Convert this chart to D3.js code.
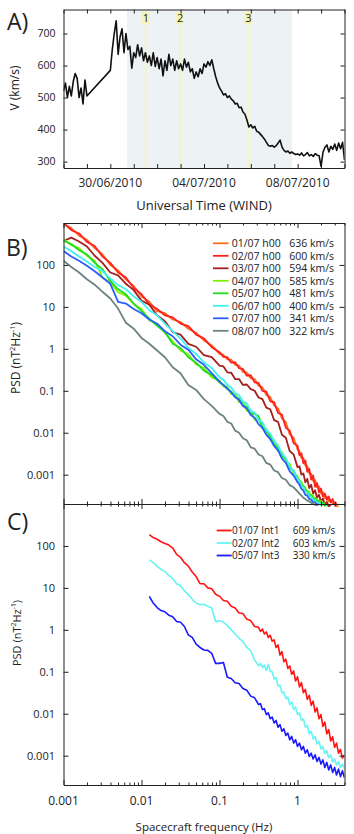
<!DOCTYPE html>
<html>
<head>
<meta charset="utf-8">
<script src="https://cdn.jsdelivr.net/npm/d3@7/dist/d3.min.js"></script>
<style>
body { margin: 0; background: #fff; }
text { font-family: "Open Sans", sans-serif; fill: #222; }
.axis path, .axis line { stroke: #222; stroke-width: 1; }
.axis text { font-family: "Open Sans", sans-serif; fill: #222; }
</style>
</head>
<body>
<script>
// ---------- panel A : solar wind speed (WIND), 2 h samples from 28/06/2010 00 UT, null = data gap
var speedStart = "2010-06-28T00:00:00Z";
var speedStepHours = 2;
var speedKms = [520,545,500,535,505,550,575,560,500,530,480,555,505,
  null,null,null,null,null,null,null,null,null,null,null,
  585,650,700,740,635,690,715,640,700,650,
  660,592,640,625,665,630,655,615,640,610,
  630,600,640,597,625,590,620,568,615,585,
  635,600,620,585,615,590,605,585,620,595,
  610,580,590,560,580,565,590,575,605,595,
  612,600,618,590,565,545,530,520,508,512,
  500,505,495,490,480,482,468,470,455,448,
  430,408,415,405,410,395,392,385,378,370,
  360,350,348,350,345,350,358,367,345,335,
  330,333,326,330,325,322,324,320,327,318,
  322,328,318,322,316,325,320,318,285,330,
  345,352,330,348,338,355,335,358,340,360,
  305];
var speedTicks = [300, 400, 500, 600, 700];
var dateTicks = ["2010-06-30T00:00:00Z", "2010-07-04T00:00:00Z", "2010-07-08T00:00:00Z"];
var dateTickLabels = ["30/06/2010", "04/07/2010", "08/07/2010"];
var shadeSpan = ["2010-06-30T17:00:00Z", "2010-07-07T18:00:00Z"];
var eventTimes = ["2010-07-01T12:30:00Z", "2010-07-02T23:30:00Z", "2010-07-05T21:30:00Z"];
var eventLabels = ["1", "2", "3"];

// ---------- panel B : PSD at 00 h each day (log10 of f in Hz, log10 of PSD in nT^2/Hz)
var logFreqB = [-3.0,-2.9,-2.8,-2.7,-2.6,-2.5,-2.4,-2.3,-2.2,-2.1,-2.0,-1.9,-1.8,-1.7,-1.6,-1.5,-1.4,-1.3,-1.2,-1.1,
  -1.0,-0.95,-0.9,-0.85,-0.8,-0.75,-0.7,-0.65,-0.6,-0.55,-0.5,-0.45,-0.4,-0.35,-0.3,-0.25,-0.2,-0.15,-0.1,-0.05,
  0,0.025,0.05,0.075,0.1,0.125,0.15,0.175,0.2,0.225,0.25,0.275,0.3,0.325,0.35,0.375,0.4,0.425,0.45,0.475,0.5,0.525,0.55,0.575,0.6];
var psd0107 = [2.98,2.88,2.7,2.6,2.4,2.25,2.0,1.87,1.65,1.5,1.25,1.12,0.9,0.85,0.7,0.64,0.48,0.38,0.2,0.08,
  -0.12,-0.14,-0.25,-0.26,-0.38,-0.4,-0.55,-0.57,-0.7,-0.72,-0.88,-0.92,-1.1,-1.15,-1.35,-1.42,-1.66,-1.75,-2.04,-2.12,
  -2.4,-2.44,-2.6,-2.6,-2.78,-2.8,-2.97,-2.98,-3.15,-3.13,-3.3,-3.28,-3.45,-3.42,-3.56,-3.52,-3.64,-3.6,-3.7,-3.68,-3.76,-3.74,null,null,null];
var psd0207 = [3.0,2.83,2.75,2.55,2.45,2.2,2.05,1.82,1.7,1.45,1.3,1.06,0.95,0.8,0.75,0.6,0.54,0.34,0.25,0.04,
  -0.08,-0.19,-0.2,-0.33,-0.32,-0.46,-0.48,-0.64,-0.63,-0.8,-0.81,-1.0,-1.02,-1.25,-1.27,-1.53,-1.57,-1.88,-1.95,-2.25,
  -2.31,-2.54,-2.49,-2.73,-2.66,-2.93,-2.86,-3.12,-3.02,-3.29,-3.2,-3.42,-3.33,-3.52,-3.45,-3.6,-3.52,-3.66,-3.58,-3.72,-3.66,null,null,null,null];
var psd0307 = [2.57,2.65,2.56,2.44,2.22,2.05,1.82,1.75,1.55,1.4,1.15,1.05,0.8,0.66,0.4,0.34,0.12,0.05,-0.15,-0.2,
  -0.4,-0.42,-0.56,-0.57,-0.72,-0.72,-0.86,-0.85,-0.96,-1.0,-1.16,-1.2,-1.4,-1.44,-1.7,-1.74,-2.05,-2.12,-2.44,-2.52,
  -2.82,-2.8,-3.0,-2.97,-3.18,-3.1,-3.32,-3.24,-3.45,-3.37,-3.55,-3.48,-3.64,-3.57,-3.71,-3.65,-3.76,-3.72,null,null,null,null,null,null,null];
var psd0407 = [2.62,2.47,2.4,2.22,2.1,1.7,1.58,1.35,1.27,1.07,0.95,0.68,0.6,0.38,0.18,-0.04,-0.13,-0.37,-0.45,-0.68,
  -0.75,-0.9,-0.9,-1.08,-1.07,-1.27,-1.27,-1.48,-1.46,-1.69,-1.68,-1.9,-1.9,-2.16,-2.18,-2.44,-2.46,-2.72,-2.74,-3.0,
  -3.03,-3.2,-3.16,-3.34,-3.3,-3.46,-3.4,-3.57,-3.49,-3.64,-3.57,-3.68,-3.62,-3.72,-3.67,null,null,null,null,null,null,null,null,null,null];
var psd0507 = [2.58,2.5,2.35,2.25,2.05,1.9,1.62,1.42,1.3,1.08,0.9,0.72,0.55,0.4,0.12,0.02,-0.2,-0.33,-0.52,-0.62,
  -0.8,-0.86,-0.96,-1.02,-1.15,-1.18,-1.35,-1.38,-1.55,-1.55,-1.6,-1.86,-1.98,-2.08,-2.28,-2.35,-2.56,-2.62,-2.85,-2.9,
  -3.1,-3.13,-3.25,-3.26,-3.38,-3.38,-3.5,-3.48,-3.6,-3.56,-3.66,-3.62,-3.7,-3.67,-3.74,-3.72,null,null,null,null,null,null,null,null,null];
var psd0607 = [2.44,2.33,2.2,2.08,1.95,1.85,1.68,1.52,1.42,1.25,1.12,0.92,0.8,0.6,0.42,0.25,0.02,-0.12,-0.32,-0.46,
  -0.68,-0.74,-0.86,-0.92,-1.06,-1.1,-1.26,-1.3,-1.48,-1.52,-1.7,-1.75,-1.94,-2.02,-2.2,-2.3,-2.5,-2.6,-2.82,-2.92,
  -3.1,-3.16,-3.26,-3.3,-3.4,-3.42,-3.52,-3.52,-3.62,-3.6,-3.68,-3.66,-3.72,-3.7,null,null,null,null,null,null,null,null,null,null,null];
var psd0707 = [2.33,2.2,2.1,1.98,1.85,1.7,1.55,1.12,1.08,0.95,0.85,0.7,0.6,0.42,0.3,0.1,-0.02,-0.25,-0.38,-0.58,
  -0.78,-0.86,-0.95,-1.04,-1.15,-1.22,-1.36,-1.42,-1.58,-1.64,-1.8,-1.88,-2.05,-2.15,-2.32,-2.42,-2.62,-2.72,-2.92,-3.02,
  -3.18,-3.24,-3.34,-3.38,-3.48,-3.5,-3.58,-3.6,-3.66,-3.66,-3.71,-3.72,null,null,null,null,null,null,null,null,null,null,null,null,null];
var psd0807 = [2.1,1.95,1.82,1.66,1.53,1.36,1.2,0.96,0.62,0.48,0.26,0.12,-0.04,-0.2,-0.44,-0.58,-0.86,-0.98,-1.2,-1.36,
  -1.55,-1.6,-1.74,-1.78,-1.95,-2.0,-2.13,-2.18,-2.35,-2.38,-2.52,-2.56,-2.72,-2.76,-2.9,-2.94,-3.08,-3.12,-3.25,-3.3,
  -3.4,-3.45,-3.5,-3.55,-3.58,-3.62,-3.64,-3.67,-3.7,-3.71,-3.74,null,null,null,null,null,null,null,null,null,null,null,null,null,null];
var seriesB = [psd0107, psd0207, psd0307, psd0407, psd0507, psd0607, psd0707, psd0807];
var legendB = ["01/07 h00", "02/07 h00", "03/07 h00", "04/07 h00", "05/07 h00", "06/07 h00", "07/07 h00", "08/07 h00"];
var speedsB = [636, 600, 594, 585, 481, 400, 341, 322];
var colorsB = ["#ff6a1a", "#ff1f1f", "#a3201f", "#80f000", "#1fdc1f", "#3ff2f2", "#2b5fff", "#6d8282"];

// ---------- panel C : PSD of the three intervals
var logFreqC = [-1.9,-1.85,-1.8,-1.75,-1.7,-1.65,-1.6,-1.55,-1.5,-1.45,-1.4,-1.35,-1.3,-1.25,-1.2,-1.15,-1.1,-1.05,-1.0,-0.95,-0.9,-0.85,-0.8,-0.75,-0.7,-0.65,-0.6,-0.55,-0.5,
  -0.475,-0.45,-0.425,-0.4,-0.375,-0.35,-0.325,-0.3,-0.275,-0.25,-0.225,-0.2,-0.175,-0.15,-0.125,-0.1,-0.075,-0.05,-0.025,0,
  0.025,0.05,0.075,0.1,0.125,0.15,0.175,0.2,0.225,0.25,0.275,0.3,0.325,0.35,0.375,0.4,0.425,0.45,0.475,0.5,0.525,0.55,0.575,0.6];
var psdInt1 = [2.27,2.2,2.16,2.1,2.06,2.02,1.95,1.8,1.73,1.6,1.52,1.38,1.27,1.1,1.1,1.0,0.98,0.85,0.8,0.7,0.68,0.56,0.52,0.4,0.39,0.25,0.22,0.08,0.06,
  -0.04,0.02,-0.1,-0.05,-0.18,-0.13,-0.27,-0.24,-0.42,-0.36,-0.6,-0.52,-0.76,-0.7,-0.92,-0.86,-1.06,-0.98,-1.22,-1.12,
  -1.36,-1.26,-1.5,-1.42,-1.66,-1.56,-1.8,-1.7,-1.96,-1.86,-2.12,-2.02,-2.3,-2.2,-2.48,-2.38,-2.65,-2.55,-2.8,-2.7,-2.94,-2.85,-3.06,-2.98];
var psdInt2 = [1.67,1.6,1.52,1.44,1.39,1.3,1.22,1.1,1.05,0.93,0.84,0.73,0.64,0.6,0.61,0.56,0.52,0.2,0.22,0.18,0.1,0.0,-0.1,-0.2,-0.28,-0.42,-0.5,-0.72,-0.86,
  -0.8,-0.9,-0.84,-0.97,-0.82,-0.99,-1.0,-1.17,-1.14,-1.34,-1.32,-1.5,-1.48,-1.64,-1.6,-1.78,-1.72,-1.9,-1.84,-2.02,
  -1.98,-2.16,-2.12,-2.32,-2.28,-2.48,-2.42,-2.6,-2.54,-2.72,-2.66,-2.84,-2.78,-2.95,-2.88,-3.05,-2.98,-3.15,-3.08,-3.22,-3.14,-3.28,-3.2,-3.3];
var psdInt3 = [0.8,0.64,0.53,0.46,0.43,0.35,0.31,0.2,0.18,0.08,-0.12,-0.18,-0.34,-0.42,-0.48,-0.49,-0.56,-0.8,-0.8,-0.78,-1.13,-1.16,-1.26,-1.28,-1.4,-1.44,-1.58,-1.62,-1.78,
  -1.76,-1.9,-1.88,-2.02,-1.98,-2.12,-2.08,-2.22,-2.16,-2.32,-2.26,-2.42,-2.36,-2.52,-2.46,-2.62,-2.54,-2.7,-2.62,-2.78,
  -2.7,-2.86,-2.78,-2.94,-2.86,-3.02,-2.94,-3.08,-2.98,-3.14,-3.04,-3.2,-3.1,-3.28,-3.16,-3.34,-3.22,-3.4,-3.28,-3.46,-3.32,-3.5,-3.36,-3.52];
var seriesC = [psdInt1, psdInt2, psdInt3];
var legendC = ["01/07 Int1", "02/07 Int2", "05/07 Int3"];
var speedsC = [609, 603, 330];
var colorsC = ["#ff1414", "#66f4f4", "#1a1aff"];

var psdTickValues = [0.001, 0.01, 0.1, 1, 10, 100];
var psdTickLabels = ["0.001", "0.01", "0.1", "1", "10", "100"];
var freqTickValues = [0.001, 0.01, 0.1, 1];
var freqTickLabels = ["0.001", "0.01", "0.1", "1"];

// ---------- drawing
var svg = d3.select("body").append("svg").attr("width", 354).attr("height", 834);
var L = 63.5, R = 344.5;
var defs = svg.append("defs");
function clip(id, x, y, w, h) {
  defs.append("clipPath").attr("id", id).append("rect")
    .attr("x", x).attr("y", y).attr("width", w).attr("height", h);
}

// panel A
var aTop = 9.5, aBot = 168;
var tx = d3.scaleUtc()
  .domain([new Date("2010-06-28T00:00:00Z"), new Date("2010-07-10T00:00:00Z")])
  .range([L, R]);
var vy = d3.scaleLinear().domain([280, 775]).range([aBot, aTop]);
clip("clipA", L, aTop, R - L, aBot - aTop);

svg.append("rect")
  .attr("x", tx(new Date(shadeSpan[0])))
  .attr("y", aTop)
  .attr("width", tx(new Date(shadeSpan[1])) - tx(new Date(shadeSpan[0])))
  .attr("height", aBot - aTop)
  .attr("fill", "#edf2f5");

eventTimes.forEach(function(t, i) {
  var x = tx(new Date(t));
  svg.append("line").attr("x1", x).attr("x2", x).attr("y1", aTop).attr("y2", aBot)
    .attr("stroke", "#f4f4c4").attr("stroke-width", 1.8);
  svg.append("rect").attr("x", x - 4).attr("y", 12).attr("width", 8).attr("height", 12)
    .attr("fill", "#f4f4b8");
  svg.append("text").attr("x", x).attr("y", 22).attr("text-anchor", "middle")
    .attr("font-size", "11px").text(eventLabels[i]);
});

var startMs = +new Date(speedStart);
var speedPts = speedKms.map(function(v, i) {
  return { t: new Date(startMs + i * speedStepHours * 3600000), v: v };
}).filter(function(d) { return d.v !== null; });

svg.append("path").datum(speedPts)
  .attr("d", d3.line().x(function(d) { return tx(d.t); }).y(function(d) { return vy(d.v); }))
  .attr("fill", "none").attr("stroke", "#111").attr("stroke-width", 1.6)
  .attr("stroke-linejoin", "round")
  .attr("clip-path", "url(#clipA)");

var dayTicks = d3.utcDay.range(tx.domain()[0], d3.utcDay.offset(tx.domain()[1], 1));
var axA = svg.append("g").attr("class", "axis");
axA.append("g").attr("transform", "translate(0," + aBot + ")")
  .call(d3.axisBottom(tx).tickValues(dayTicks).tickSize(-4).tickSizeOuter(0).tickFormat(""));
axA.append("g").attr("transform", "translate(0," + aTop + ")")
  .call(d3.axisTop(tx).tickValues(dayTicks).tickSize(-4).tickSizeOuter(0).tickFormat(""));
axA.append("g").attr("transform", "translate(" + L + ",0)")
  .call(d3.axisLeft(vy).tickValues(speedTicks).tickSize(-4).tickSizeOuter(0).tickPadding(8))
  .selectAll("text").attr("font-size", "10.5px");
axA.append("g").attr("transform", "translate(" + R + ",0)")
  .call(d3.axisRight(vy).tickValues(speedTicks).tickSize(-4).tickSizeOuter(0).tickFormat(""));

dateTicks.forEach(function(d, i) {
  svg.append("text").attr("x", tx(new Date(d))).attr("y", 186.5)
    .attr("text-anchor", "middle").attr("font-size", "12px").text(dateTickLabels[i]);
});
svg.append("text").attr("x", 204).attr("y", 210).attr("text-anchor", "middle")
  .attr("font-size", "13px").text("Universal Time (WIND)");
svg.append("text").attr("transform", "translate(18.5,88) rotate(-90)")
  .attr("text-anchor", "middle").attr("font-size", "12px").text("V (km/s)");
svg.append("text").attr("x", 7).attr("y", 30).attr("font-size", "23px").text("A)");

// panels B and C share the log frequency axis
var fx = d3.scaleLog().domain([0.001, 4]).range([L, R]);
var minorF = fx.ticks().filter(function(f) { return Math.abs(Math.log10(f) - Math.round(Math.log10(f))) > 1e-6; });

function psdLabel(x, y, size) {
  var t = svg.append("text").attr("transform", "translate(" + x + "," + y + ") rotate(-90)")
    .attr("text-anchor", "middle").attr("font-size", size + "px");
  t.append("tspan").text("PSD (nT");
  t.append("tspan").attr("dy", -size * 0.45).attr("font-size", (size * 0.62) + "px").text("2");
  t.append("tspan").attr("dy", size * 0.45).text("Hz");
  t.append("tspan").attr("dy", -size * 0.45).attr("font-size", (size * 0.62) + "px").text("-1");
  t.append("tspan").attr("dy", size * 0.45).text(")");
}

function logPanel(top, bottom, series, colors, clipId, clipTop, clipBot, logF, width) {
  var py = d3.scaleLog().domain([2e-4, 1000]).range([bottom, top]);
  clip(clipId, L, clipTop, R - L, clipBot - clipTop);
  var line = d3.line()
    .defined(function(d) { return d.p !== null; })
    .x(function(d) { return fx(Math.pow(10, d.f)); })
    .y(function(d) { return py(Math.pow(10, d.p)); });
  series.forEach(function(s, k) {
    var pts = s.map(function(p, i) { return { f: logF[i], p: p }; });
    svg.append("path").datum(pts).attr("d", line)
      .attr("fill", "none").attr("stroke", colors[k]).attr("stroke-width", width)
      .attr("stroke-linejoin", "round")
      .attr("clip-path", "url(#" + clipId + ")");
  });
  var ax = svg.append("g").attr("class", "axis");
  ax.append("g").attr("transform", "translate(0," + bottom + ")")
    .call(d3.axisBottom(fx).tickValues(minorF).tickSize(-2.5).tickSizeOuter(0).tickFormat(""));
  ax.append("g").attr("transform", "translate(0," + bottom + ")")
    .call(d3.axisBottom(fx).tickValues(freqTickValues).tickSize(-5).tickSizeOuter(0).tickFormat(""));
  ax.append("g").attr("transform", "translate(0," + top + ")")
    .call(d3.axisTop(fx).tickValues(minorF).tickSize(-2.5).tickSizeOuter(0).tickFormat(""));
  ax.append("g").attr("transform", "translate(0," + top + ")")
    .call(d3.axisTop(fx).tickValues(freqTickValues).tickSize(-5).tickSizeOuter(0).tickFormat(""));
  ax.append("g").attr("transform", "translate(" + L + ",0)")
    .call(d3.axisLeft(py).tickValues(psdTickValues).tickSize(-5).tickSizeOuter(0).tickPadding(8.5)
      .tickFormat(function(d, i) { return psdTickLabels[i]; }))
    .selectAll("text").attr("font-size", "11px");
  ax.append("g").attr("transform", "translate(" + R + ",0)")
    .call(d3.axisRight(py).tickValues(psdTickValues).tickSize(-5).tickSizeOuter(0).tickFormat(""));
  return py;
}

// panel B
var bTop = 223, bBot = 504;
logPanel(bTop, bBot, seriesB, colorsB, "clipB", bTop, bBot + 3, logFreqB, 1.8);
legendB.forEach(function(name, i) {
  var y = 243.3 + 12.5 * i;
  svg.append("line").attr("x1", 213).attr("x2", 228.5).attr("y1", y).attr("y2", y)
    .attr("stroke", colorsB[i]).attr("stroke-width", 1.8);
  svg.append("text").attr("x", 231.7).attr("y", y + 3.8).attr("font-size", "10.5px").text(name);
  svg.append("text").attr("x", 289.3).attr("y", y + 3.8).attr("font-size", "10.5px").text(speedsB[i] + " km/s");
});
psdLabel(20, 358, 12);
svg.append("text").attr("x", 6).attr("y", 256).attr("font-size", "23px").text("B)");

// panel C
var cTop = 504, cBot = 785;
logPanel(cTop, cBot, seriesC, colorsC, "clipC", cTop, cBot, logFreqC, 1.6);
legendC.forEach(function(name, i) {
  var y = 530.5 + 12.5 * i;
  svg.append("line").attr("x1", 216.7).attr("x2", 231.7).attr("y1", y).attr("y2", y)
    .attr("stroke", colorsC[i]).attr("stroke-width", 1.8);
  svg.append("text").attr("x", 232).attr("y", y + 3.6).attr("font-size", "10px").text(name);
  svg.append("text").attr("x", 292.7).attr("y", y + 3.6).attr("font-size", "10px").text(speedsC[i] + " km/s");
});
freqTickValues.forEach(function(f, i) {
  svg.append("text").attr("x", fx(f)).attr("y", 805).attr("text-anchor", "middle")
    .attr("font-size", "12px").text(freqTickLabels[i]);
});
svg.append("text").attr("x", 204).attr("y", 831).attr("text-anchor", "middle")
  .attr("font-size", "11.5px").text("Spacecraft frequency (Hz)");
psdLabel(20.5, 633, 11);
svg.append("text").attr("x", 7).attr("y", 530).attr("font-size", "23px").text("C)");
</script>
</body>
</html>
